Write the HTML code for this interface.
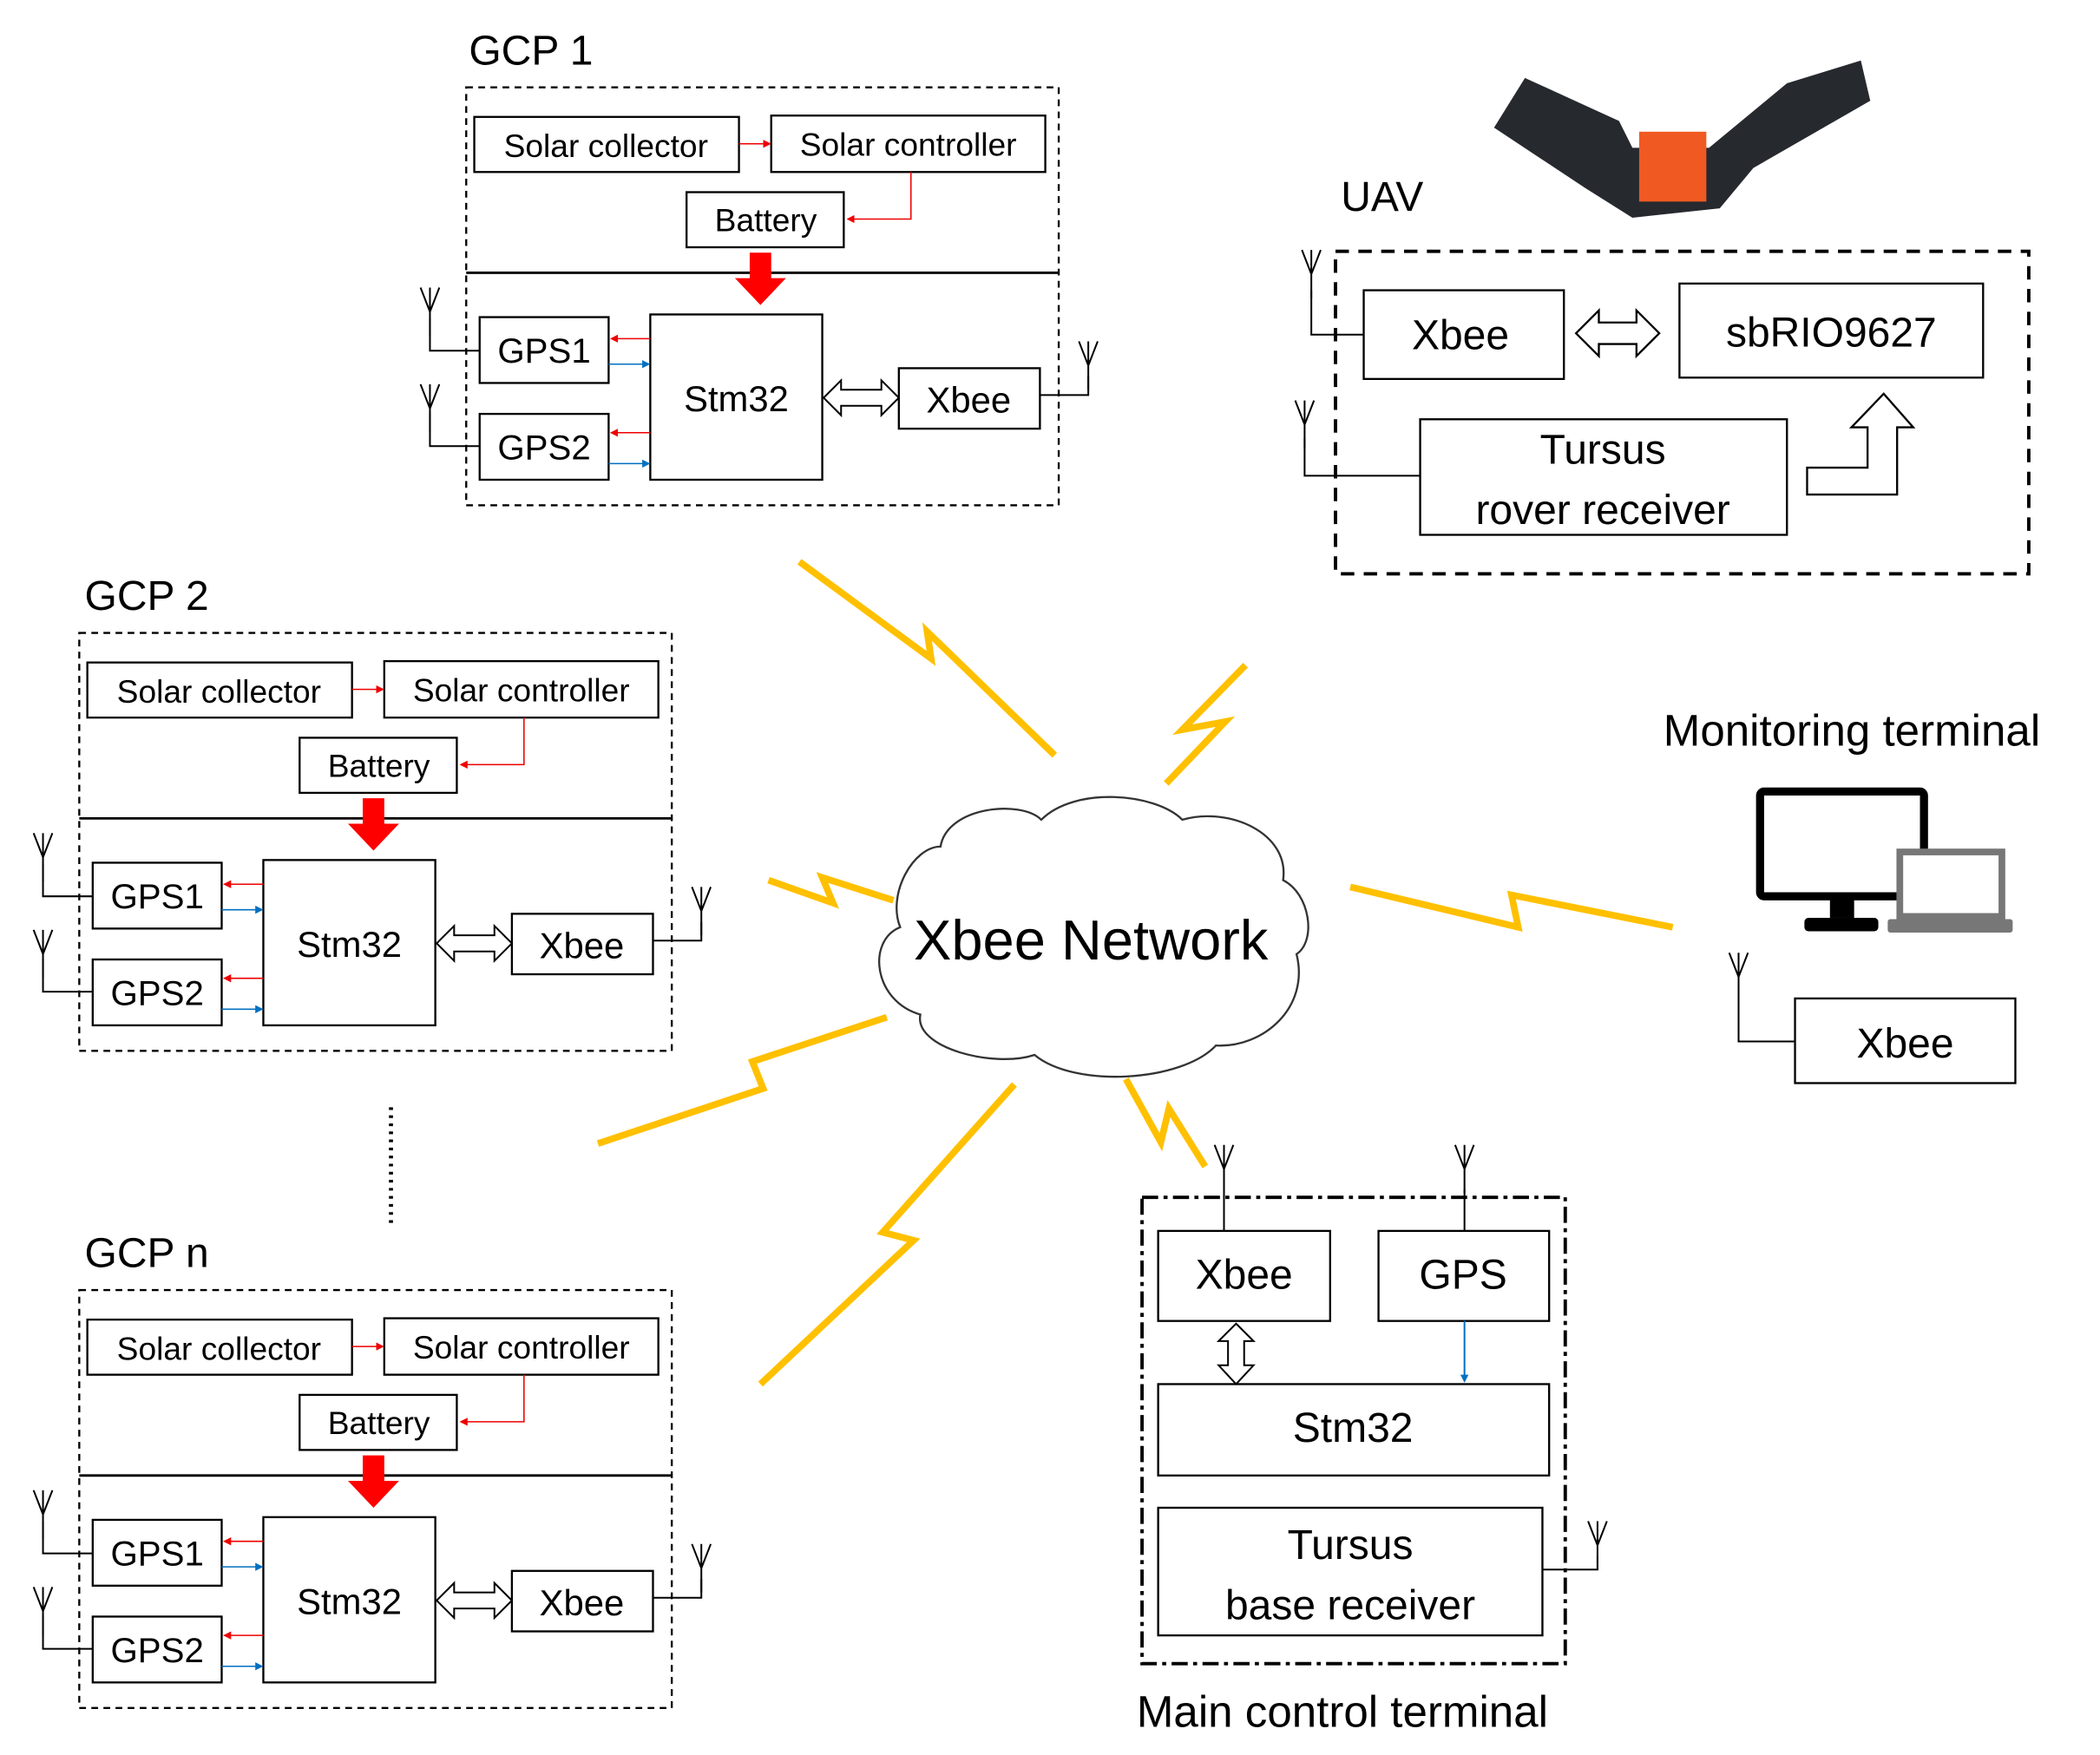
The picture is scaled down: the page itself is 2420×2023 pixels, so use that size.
<!DOCTYPE html>
<html><head><meta charset="utf-8"><style>
html,body{margin:0;padding:0;background:#fff}
svg{display:block}
text{font-family:"Liberation Sans",sans-serif;fill:#000}
</style></head><body>
<svg width="2420" height="2023" viewBox="0 0 1563 1306" preserveAspectRatio="none" xmlns="http://www.w3.org/2000/svg">
<defs>
<marker id="ar" markerWidth="6" markerHeight="6" refX="5" refY="3" orient="auto" markerUnits="userSpaceOnUse"><path d="M0,0 L6,3 L0,6z" fill="#e00"/></marker>
<marker id="ab" markerWidth="6" markerHeight="6" refX="5" refY="3" orient="auto" markerUnits="userSpaceOnUse"><path d="M0,0 L6,3 L0,6z" fill="#0070c0"/></marker>
<g id="ant"><path d="M0,0 V-36 M-7,-36 L0,-18 L7,-36" fill="none" stroke="#000" stroke-width="1.3"/></g>
<g id="gcp">
<rect x="347" y="65" width="441" height="311" fill="none" stroke="#000" stroke-width="1.5" stroke-dasharray="5,4"/>
<line x1="347" y1="203" x2="788" y2="203" stroke="#000" stroke-width="1.8"/>
<rect x="353" y="87" width="197" height="41" fill="#fff" stroke="#000" stroke-width="1.5"/>
<text x="451" y="117" font-size="24" text-anchor="middle">Solar collector</text>
<rect x="574" y="86" width="204" height="42" fill="#fff" stroke="#000" stroke-width="1.5"/>
<text x="676" y="116" font-size="24" text-anchor="middle">Solar controller</text>
<line x1="550" y1="107" x2="573" y2="107" stroke="#e00" stroke-width="1" marker-end="url(#ar)"/>
<rect x="511" y="143" width="117" height="41" fill="#fff" stroke="#000" stroke-width="1.5"/>
<text x="570" y="172" font-size="24" text-anchor="middle">Battery</text>
<polyline points="678,128 678,163 631,163" fill="none" stroke="#e00" stroke-width="1" marker-end="url(#ar)"/>
<path d="M558,188 H574 V207 H585 L566,227 L547,207 H558Z" fill="#f00"/>
<rect x="357" y="236" width="96" height="49" fill="#fff" stroke="#000" stroke-width="1.5"/>
<text x="405" y="270" font-size="26" text-anchor="middle">GPS1</text>
<rect x="357" y="308" width="96" height="49" fill="#fff" stroke="#000" stroke-width="1.5"/>
<text x="405" y="342" font-size="26" text-anchor="middle">GPS2</text>
<rect x="484" y="234" width="128" height="123" fill="#fff" stroke="#000" stroke-width="1.5"/>
<text x="548" y="306" font-size="27" text-anchor="middle">Stm32</text>
<rect x="669" y="274" width="105" height="45" fill="#fff" stroke="#000" stroke-width="1.5"/>
<text x="721" y="307" font-size="27" text-anchor="middle">Xbee</text>
<path d="M613,296 L626,283 V290 H656 V283 L669,296 L656,309 V302 H626 V309Z" fill="#fff" stroke="#000" stroke-width="1.3"/>
<line x1="484" y1="252" x2="455" y2="252" stroke="#e00" stroke-width="1" marker-end="url(#ar)"/>
<line x1="453" y1="271" x2="483" y2="271" stroke="#0070c0" stroke-width="1" marker-end="url(#ab)"/>
<line x1="484" y1="322" x2="455" y2="322" stroke="#e00" stroke-width="1" marker-end="url(#ar)"/>
<line x1="453" y1="345" x2="483" y2="345" stroke="#0070c0" stroke-width="1" marker-end="url(#ab)"/>
<polyline points="357,261 320,261 320,237" fill="none" stroke="#000" stroke-width="1.3"/>
<use href="#ant" x="320" y="250"/>
<polyline points="357,332 320,332 320,307" fill="none" stroke="#000" stroke-width="1.3"/>
<use href="#ant" x="320" y="322"/>
<polyline points="774,294 810,294 810,280" fill="none" stroke="#000" stroke-width="1.3"/>
<use href="#ant" x="810" y="290"/>
</g>
</defs>

<text x="349" y="48" font-size="31">GCP 1</text>
<use href="#gcp"/>
<text x="63" y="454" font-size="31">GCP 2</text>
<use href="#gcp" transform="translate(-288,406)"/>
<text x="63" y="943" font-size="31">GCP n</text>
<use href="#gcp" transform="translate(-288,895)"/>
<line x1="291" y1="824" x2="291" y2="914" stroke="#000" stroke-width="3" stroke-dasharray="2,4"/>

<g fill="none" stroke="#FFC000" stroke-width="5" stroke-linejoin="miter">
<polyline points="595,418 693,490 690,470 785,562"/>
<polyline points="927,495 880,543 912,537 868,583"/>
<polyline points="572,655 620,672 612,653 665,670"/>
<polyline points="1005,660 1130,690 1125,666 1245,690"/>
<polyline points="660,757 560,790 568,810 445,851"/>
<polyline points="755,807 657,917 680,923 566,1030"/>
<polyline points="838,803 864,850 870,825 897,868"/>
</g>

<path d="M700,630 C705,600 760,595 775,610 C800,585 860,590 880,610 C915,600 960,620 955,655 C975,665 980,700 965,710 C975,750 940,780 905,778 C880,805 800,810 770,785 C740,795 680,780 685,755 C650,745 645,700 670,690 C660,665 680,630 700,630Z" fill="#fff" stroke="#333" stroke-width="1.5"/>
<text x="812" y="714" font-size="42" text-anchor="middle">Xbee Network</text>

<text x="998" y="157" font-size="31">UAV</text>
<path d="M1112,95 L1135,58 L1205,90 L1215,110 L1272,110 L1330,62 L1385,45 L1392,75 L1305,125 L1280,155 L1215,162 L1180,140 Z" fill="#26292e"/>
<rect x="1220" y="98" width="50" height="52" fill="#f05a22"/>
<rect x="994" y="187" width="516" height="240" fill="none" stroke="#000" stroke-width="2.5" stroke-dasharray="10,7"/>
<rect x="1015" y="216" width="149" height="66" fill="#fff" stroke="#000" stroke-width="1.5"/>
<text x="1087" y="260" font-size="31" text-anchor="middle">Xbee</text>
<rect x="1250" y="211" width="226" height="70" fill="#fff" stroke="#000" stroke-width="1.5"/>
<text x="1363" y="258" font-size="31" text-anchor="middle">sbRIO9627</text>
<rect x="1057" y="312" width="273" height="86" fill="#fff" stroke="#000" stroke-width="1.5"/>
<text x="1193" y="345" font-size="31" text-anchor="middle">Tursus</text>
<text x="1193" y="390" font-size="31" text-anchor="middle">rover receiver</text>
<path d="M1173,248 L1190,231 V240 H1218 V231 L1235,248 L1218,265 V256 H1190 V265Z" fill="#fff" stroke="#000" stroke-width="1.5"/>
<path d="M1345,368 V348 H1390 V318 H1378 L1402,293 L1424,318 H1412 V368Z" fill="#fff" stroke="#000" stroke-width="1.5"/>
<polyline points="1015,249 976,249 976,216" fill="none" stroke="#000" stroke-width="1.3"/>
<use href="#ant" x="976" y="222"/>
<polyline points="1057,354 971,354 971,326" fill="none" stroke="#000" stroke-width="1.3"/>
<use href="#ant" x="971" y="334"/>

<text x="1238" y="555" font-size="33">Monitoring terminal</text>
<rect x="1310" y="589" width="122" height="78" rx="3" fill="#fff" stroke="#000" stroke-width="6"/>
<rect x="1362" y="669" width="18" height="14" fill="#000"/>
<rect x="1343" y="683" width="55" height="10" rx="3" fill="#000"/>
<rect x="1414" y="634" width="76" height="48" fill="#fff" stroke="#777" stroke-width="5"/>
<rect x="1405" y="684" width="93" height="10" rx="2" fill="#777"/>
<rect x="1336" y="743" width="164" height="63" fill="#fff" stroke="#000" stroke-width="1.5"/>
<text x="1418" y="787" font-size="31" text-anchor="middle">Xbee</text>
<polyline points="1336,775 1294,775 1294,737" fill="none" stroke="#000" stroke-width="1.3"/>
<use href="#ant" x="1294" y="745"/>

<rect x="850" y="891" width="315" height="347" fill="none" stroke="#000" stroke-width="2.5" stroke-dasharray="12,4,3,4"/>
<rect x="862" y="916" width="128" height="67" fill="#fff" stroke="#000" stroke-width="1.5"/>
<text x="926" y="959" font-size="31" text-anchor="middle">Xbee</text>
<rect x="1026" y="916" width="127" height="67" fill="#fff" stroke="#000" stroke-width="1.5"/>
<text x="1089" y="959" font-size="31" text-anchor="middle">GPS</text>
<rect x="862" y="1030" width="291" height="68" fill="#fff" stroke="#000" stroke-width="1.5"/>
<text x="1007" y="1073" font-size="31" text-anchor="middle">Stm32</text>
<rect x="862" y="1122" width="286" height="95" fill="#fff" stroke="#000" stroke-width="1.5"/>
<text x="1005" y="1160" font-size="31" text-anchor="middle">Tursus</text>
<text x="1005" y="1205" font-size="31" text-anchor="middle">base receiver</text>
<path d="M920,985 L933,998 H926 V1016 H933 L920,1030 L907,1016 H914 V998 H907Z" fill="#fff" stroke="#000" stroke-width="1.3"/>
<line x1="1090" y1="983" x2="1090" y2="1028" stroke="#0070c0" stroke-width="1.3" marker-end="url(#ab)"/>
<line x1="911" y1="916" x2="911" y2="885" stroke="#000" stroke-width="1.3"/>
<use href="#ant" x="911" y="888"/>
<line x1="1090" y1="916" x2="1090" y2="885" stroke="#000" stroke-width="1.3"/>
<use href="#ant" x="1090" y="888"/>
<polyline points="1148,1168 1189,1168 1189,1158" fill="none" stroke="#000" stroke-width="1.3"/>
<use href="#ant" x="1189" y="1168"/>
<text x="846" y="1285" font-size="33">Main control terminal</text>
</svg>
</body></html>
